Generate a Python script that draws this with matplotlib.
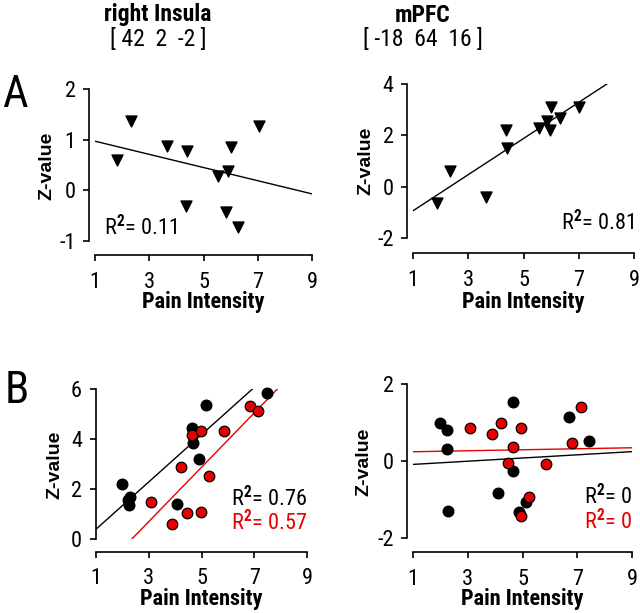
import numpy as np
import matplotlib.pyplot as plt

NARROW = 'Roboto Condensed'
plt.rcParams['font.family'] = [NARROW, 'Liberation Sans', 'DejaVu Sans']
plt.rcParams['axes.unicode_minus'] = False
plt.rcParams['mathtext.fontset'] = 'custom'
plt.rcParams['mathtext.rm'] = NARROW
plt.rcParams['mathtext.bf'] = NARROW + ':bold'

# ---- data ----
# A: right Insula
ins_a_x = [1.82, 2.32, 3.64, 4.38, 4.36, 5.54, 5.92, 6.00, 5.82, 6.29, 7.03]
ins_a_y = [0.60, 1.37, 0.88, 0.78, -0.31, 0.29, 0.39, 0.85, -0.42, -0.72, 1.27]
ins_a_fit = [-0.13, 1.10]          # slope, intercept

# A: mPFC
pfc_a_x = [1.86, 2.34, 3.66, 4.38, 4.40, 5.56, 5.86, 5.95, 6.31, 5.98, 7.00]
pfc_a_y = [-0.64, 0.62, -0.42, 2.22, 1.51, 2.29, 2.54, 2.22, 2.68, 3.09, 3.10]
pfc_a_fit = [0.704, -1.644]

# B: right Insula (black / red groups)
ins_b_black_x = [1.97, 2.29, 2.23, 2.25, 4.07, 4.64, 4.68, 4.92, 5.16, 7.48]
ins_b_black_y = [2.20, 1.69, 1.56, 1.35, 1.39, 4.43, 3.83, 3.19, 5.36, 5.85]
ins_b_red_x = [3.08, 3.88, 4.22, 4.46, 4.64, 4.98, 4.98, 5.27, 5.86, 6.83, 7.16]
ins_b_red_y = [1.49, 0.59, 2.87, 1.03, 4.16, 4.33, 1.07, 2.53, 4.33, 5.32, 5.12]
ins_b_black_fit = [0.946, -0.556]
ins_b_red_fit = [1.087, -2.565]

# B: mPFC
pfc_b_black_x = [1.99, 2.26, 2.23, 2.29, 4.09, 4.67, 4.67, 4.89, 5.11, 6.69, 7.42]
pfc_b_black_y = [0.98, 0.81, 0.31, -1.30, -0.84, 1.54, -0.26, -1.33, -1.07, 1.13, 0.52]
pfc_b_red_x = [3.09, 3.88, 4.22, 4.47, 4.65, 4.96, 4.96, 5.25, 5.87, 6.81, 7.14]
pfc_b_red_y = [0.87, 0.70, 1.00, -0.04, 0.37, 0.87, -1.43, -0.94, -0.08, 0.46, 1.41]
pfc_b_black_fit = [0.0415, -0.13]
pfc_b_red_fit = [0.013, 0.227]

RED = '#e60000'
W, H = 640, 613
fig = plt.figure(figsize=(W / 100, H / 100), dpi=100)


def box(x0, x1, ytop, ybot):
    # pixel box -> figure fraction
    return [x0 / W, 1 - ybot / H, (x1 - x0) / W, (ybot - ytop) / H]


def style(ax, ylim, yticks, left_off, bottom_off, ylab_xy, xlab_y):
    ax.set_xlim(1, 9)
    ax.set_ylim(*ylim)
    ax.set_xticks([1, 3, 5, 7, 9])
    ax.set_yticks(yticks)
    for s in ['top', 'right']:
        ax.spines[s].set_visible(False)
    ax.spines['left'].set_position(('outward', left_off))
    ax.spines['bottom'].set_position(('outward', bottom_off))
    ax.spines['left'].set_linewidth(1.2)
    ax.spines['bottom'].set_linewidth(1.2)
    ax.tick_params(direction='out', length=4, width=1.2, labelsize=16)
    ax.tick_params(axis='x', pad=8)
    ax.tick_params(axis='y', pad=6)
    ax.patch.set_visible(False)
    ax.set_xlabel('Pain Intensity', fontsize=16, fontweight='bold')
    ax.set_ylabel('Z-value', fontsize=14, fontweight='bold', family='Liberation Sans')
    # label centres in figure pixels
    ax.yaxis.set_label_coords(ylab_xy[0] / W, 1 - ylab_xy[1] / H, transform=fig.transFigure)
    ax.yaxis.label.set_va('center')
    ax.xaxis.set_label_coords(ax.get_position().x0 + ax.get_position().width / 2,
                              1 - xlab_y / H, transform=fig.transFigure)
    ax.xaxis.label.set_va('center')


def fit_line(ax, fit, color):
    xs = np.linspace(1, 9, 50)
    ax.plot(xs, fit[0] * xs + fit[1], color=color, lw=1)


tri = dict(marker='v', s=62, color='black', zorder=3, clip_on=False)
blk = dict(marker='o', s=58, color='black', zorder=3, clip_on=False)
red = dict(marker='o', s=58, facecolor=RED, edgecolor='black', linewidth=0.9, zorder=3, clip_on=False)
r2 = 'R$^{\\mathbf{2}}$= '

# A left
ax1 = fig.add_axes(box(95, 312, 89, 241))
ax1.scatter(ins_a_x, ins_a_y, **tri)
fit_line(ax1, ins_a_fit, 'black')
style(ax1, (-1, 2), [-1, 0, 1, 2], 4, 10, (47, 166), 302)
ax1.text(0.04, 0.04, r2 + '0.11', transform=ax1.transAxes, fontsize=16)

# A right
ax2 = fig.add_axes(box(413, 634, 84, 238))
ax2.scatter(pfc_a_x, pfc_a_y, **tri)
fit_line(ax2, pfc_a_fit, 'black')
style(ax2, (-2, 4), [-2, 0, 2, 4], 4, 11, (366, 161), 302)
ax2.text(1.0, 0.05, r2 + '0.81', transform=ax2.transAxes, fontsize=16, ha='right')

# B left
ax3 = fig.add_axes(box(96, 307, 389, 539))
ax3.scatter(ins_b_black_x, ins_b_black_y, **blk)
ax3.scatter(ins_b_red_x, ins_b_red_y, **red)
fit_line(ax3, ins_b_black_fit, 'black')
fit_line(ax3, ins_b_red_fit, RED)
style(ax3, (0, 6), [0, 2, 4, 6], 0, 9, (55, 465), 599)
ax3.text(1.0, 0.22, r2 + '0.76', transform=ax3.transAxes, fontsize=16, ha='right')
ax3.text(1.0, 0.06, r2 + '0.57', transform=ax3.transAxes, fontsize=16, ha='right', color=RED)

# B right
ax4 = fig.add_axes(box(413, 632, 384, 538))
ax4.scatter(pfc_b_black_x, pfc_b_black_y, **blk)
ax4.scatter(pfc_b_red_x, pfc_b_red_y, **red)
fit_line(ax4, pfc_b_black_fit, 'black')
fit_line(ax4, pfc_b_red_fit, RED)
style(ax4, (-2, 2), [-2, 0, 2], 4, 10, (364, 462), 599)
ax4.text(1.0, 0.22, r2 + '0', transform=ax4.transAxes, fontsize=16, ha='right')
ax4.text(1.0, 0.06, r2 + '0', transform=ax4.transAxes, fontsize=16, ha='right', color=RED)

# headers and panel letters
fig.text(158 / W, 1 - 15 / H, 'right Insula', ha='center', va='center', fontsize=17, fontweight='bold')
fig.text(158 / W, 1 - 40 / H, '[ 42  2  -2 ]', ha='center', va='center', fontsize=17)
fig.text(423 / W, 1 - 15 / H, 'mPFC', ha='center', va='center', fontsize=17, fontweight='bold')
fig.text(423 / W, 1 - 40 / H, '[ -18  64  16 ]', ha='center', va='center', fontsize=17)
fig.text(2 / W, 1 - 95 / H, 'A', ha='left', va='center', fontsize=32)
fig.text(5 / W, 1 - 391 / H, 'B', ha='left', va='center', fontsize=32)

fig.savefig('out.png', dpi=100)
